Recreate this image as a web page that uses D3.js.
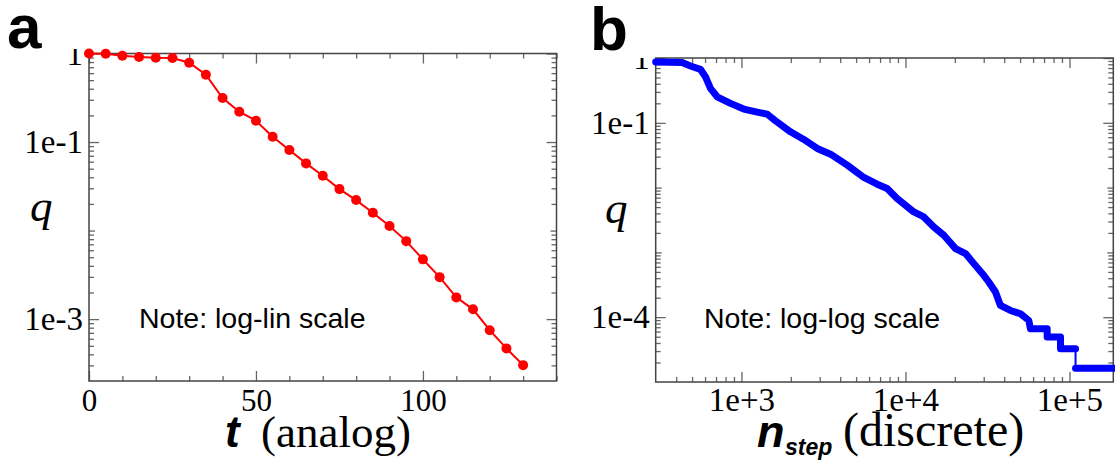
<!DOCTYPE html>
<html>
<head>
<meta charset="utf-8">
<script src="https://cdn.jsdelivr.net/npm/d3@7"></script>
<style>
  html, body { margin: 0; padding: 0; background: #fff; }
  svg { display: block; }
</style>
</head>
<body>
<script>
// ---- Panel a: analog dynamics, q versus t (log-lin) ----
const tValues = [0, 5, 10, 15, 20, 25, 30, 35, 40, 45, 50, 55, 60, 65, 70,
                 75, 80, 85, 90, 95, 100, 105, 110, 115, 120, 125, 130];
const qAnalog = [1.0, 0.995, 0.944, 0.913, 0.897, 0.89, 0.787, 0.576, 0.314,
                 0.22, 0.174, 0.115, 0.0812, 0.0574, 0.0416, 0.0294, 0.0221,
                 0.0159, 0.01125, 0.0076, 0.00473, 0.00298, 0.00176, 0.00129,
                 0.00075, 0.000467, 0.000302];
const tTickLabels = ["0", "50", "100"];
const qTickLabelsA = ["1", "1e-1", "1e-3"];

// ---- Panel b: discrete dynamics, q versus n_step (log-log) ----
const nStep = [300, 435, 489, 562, 603, 647, 711, 857, 1033, 1247, 1435, 1611,
               1990, 2399, 2898, 3492, 4416, 5575, 6720, 7730, 8891, 11240,
               12940, 14890, 17140, 20200, 23230, 26120, 30010, 32200, 35380,
               37930, 43660, 50250, 56460, 57820, 73110, 73110, 88180, 88180,
               108900];
const qStep = [0.87, 0.85, 0.752, 0.669, 0.514, 0.34, 0.252, 0.1995, 0.163,
               0.146, 0.136, 0.1074, 0.0726, 0.0554, 0.0402, 0.0328, 0.0222,
               0.01432, 0.01129, 0.00969, 0.00679, 0.00421, 0.00352, 0.00247,
               0.00184, 0.001145, 0.000958, 0.000671, 0.000443, 0.000349,
               0.000245, 0.000152, 0.000127, 0.000113, 8.93e-5, 6.64e-5,
               6.64e-5, 4.93e-5, 4.93e-5, 3.26e-5, 3.26e-5];
// last plateau, reached through a single jump
const nTail = [108900, 190000];
const qTail = [1.63e-5, 1.63e-5];
const nTickLabels = ["1e+3", "1e+4", "1e+5"];
const qTickLabelsB = ["1", "1e-1", "1e-4"];

const SERIF = "'Liberation Serif', 'Times New Roman', Times, serif";
const SANS = "'Liberation Sans', Arial, Helvetica, sans-serif";

const svg = d3.select("body").append("svg")
  .attr("width", 1115).attr("height", 466);

const defs = svg.append("defs");

// minor log ticks (2..9 x decade) inside a domain
function logMinors(lo, hi, dMin, dMax) {
  const out = [];
  for (let d = dMin; d <= dMax; d++) {
    for (let k = 2; k <= 9; k++) {
      const v = k * Math.pow(10, d);
      if (v > lo * 1.0001 && v < hi * 0.9999) out.push(v);
    }
  }
  return out;
}

// draws inward ticks on all four sides plus optional outer labels
function drawTicks(g, x, y, spec) {
  const [x0, x1] = x.range();
  const [y0, y1] = y.range(); // y0 bottom, y1 top
  const tickColor = "#666";

  function addAxis(axis, tx, ty, labelFont) {
    const a = g.append("g").attr("transform", `translate(${tx},${ty})`).call(axis);
    a.select(".domain").remove();
    a.selectAll(".tick line").attr("stroke", tickColor).attr("stroke-width", 1.3);
    a.selectAll("text").attr("fill", "#000").style("font-family", SERIF)
      .style("font-size", labelFont ? labelFont + "px" : null);
    return a;
  }

  // x: bottom + top
  spec.xSets.forEach(s => {
    addAxis(d3.axisBottom(x).tickValues(s.values).tickSize(-s.len)
      .tickPadding(s.pad || 8).tickFormat(s.fmt || (() => "")), 0, y0, spec.xFont);
    addAxis(d3.axisTop(x).tickValues(s.values).tickSize(-s.len)
      .tickFormat(() => ""), 0, y1);
  });
  // y: left + right
  spec.ySets.forEach(s => {
    const a = addAxis(d3.axisLeft(y).tickValues(s.values).tickSize(-s.len)
      .tickPadding(6).tickFormat(s.fmt || (() => "")), x0, 0, spec.yFont);
    if (s.fmt) a.attr("clip-path", `url(#${spec.clipId})`);
    addAxis(d3.axisRight(y).tickValues(s.values).tickSize(-s.len)
      .tickFormat(() => ""), x1, 0);
  });

  // frame
  g.append("rect")
    .attr("x", x0).attr("y", y1)
    .attr("width", x1 - x0).attr("height", y0 - y1)
    .attr("fill", "none").attr("stroke", "#444").attr("stroke-width", 1.5);
}

// ================= Panel a =================
{
  const x = d3.scaleLinear().domain([0, 140]).range([89, 556.5]);
  const y = d3.scaleLog().domain([2e-4, 1]).range([381, 53.5]);
  const g = svg.append("g");

  defs.append("clipPath").attr("id", "clipA").append("rect")
    .attr("x", -89).attr("y", 49).attr("width", 200).attr("height", 420);

  const majorX = [0, 50, 100];
  const minorX = d3.range(10, 141, 10).filter(v => v % 50 !== 0);
  const majorY = [1, 1e-1, 1e-3];
  const midY = [1e-2];
  const minorY = logMinors(2e-4, 1, -4, -1);

  drawTicks(g, x, y, {
    clipId: "clipA", xFont: 31, yFont: 33,
    xSets: [
      { values: majorX, len: 10, pad: 8, fmt: (d, i) => tTickLabels[i] },
      { values: minorX, len: 5 }
    ],
    ySets: [
      { values: majorY, len: 10, fmt: (d, i) => qTickLabelsA[i] },
      { values: midY, len: 6 },
      { values: minorY, len: 5 }
    ]
  });

  const pts = tValues.map((t, i) => [t, qAnalog[i]]);
  g.append("path")
    .datum(pts)
    .attr("fill", "none").attr("stroke", "#ff0000").attr("stroke-width", 2)
    .attr("d", d3.line().x(d => x(d[0])).y(d => y(d[1])));
  g.selectAll("circle.pt").data(pts).join("circle")
    .attr("class", "pt")
    .attr("cx", d => x(d[0])).attr("cy", d => y(d[1])).attr("r", 5)
    .attr("fill", "#ff0000");

  // labels
  svg.append("text").attr("x", 7).attr("y", 48)
    .style("font-family", SANS).style("font-weight", "bold").style("font-size", "62px")
    .text("a");
  svg.append("text").attr("x", 30).attr("y", 221)
    .style("font-family", SERIF).style("font-style", "italic").style("font-size", "45px")
    .text("q");
  svg.append("text").attr("x", 139).attr("y", 328)
    .style("font-family", SANS).style("font-size", "28.5px")
    .text("Note: log-lin scale");
  const xt = svg.append("text").attr("y", 447);
  xt.append("tspan").attr("x", 225)
    .style("font-family", SANS).style("font-weight", "bold").style("font-style", "italic")
    .style("font-size", "44px").text("t");
  xt.append("tspan").attr("x", 261)
    .style("font-family", SERIF).style("font-size", "45px").text("(analog)");
}

// ================= Panel b =================
{
  const x = d3.scaleLog().domain([300, 1.85e5]).range([655.7, 1113.3]);
  const y = d3.scaleLog().domain([1e-5, 1]).range([382, 58]);
  const g = svg.append("g");

  defs.append("clipPath").attr("id", "clipB").append("rect")
    .attr("x", -100).attr("y", 58).attr("width", 200).attr("height", 420);

  const majorX = [1e3, 1e4, 1e5];
  const minorX = logMinors(300, 1.85e5, 2, 5);
  const majorY = [1, 1e-1, 1e-4];
  const midY = [1e-2, 1e-3];
  const minorY = logMinors(1e-5, 1, -5, -1);

  drawTicks(g, x, y, {
    clipId: "clipB", xFont: 33, yFont: 33,
    xSets: [
      { values: majorX, len: 10, pad: 6, fmt: (d, i) => nTickLabels[i] },
      { values: minorX, len: 5 }
    ],
    ySets: [
      { values: majorY, len: 10, fmt: (d, i) => qTickLabelsB[i] },
      { values: midY, len: 6 },
      { values: minorY, len: 5 }
    ]
  });

  const line = d3.line().x(d => x(d[0])).y(d => y(d[1]));
  const main = nStep.map((n, i) => [n, qStep[i]]);
  const tail = nTail.map((n, i) => [n, qTail[i]]);

  // thin connecting line through every point
  g.append("path").datum(main.concat(tail))
    .attr("fill", "none").attr("stroke", "#0000ff").attr("stroke-width", 2)
    .attr("d", line);
  // dense marker band
  [main, tail].forEach(seg => {
    g.append("path").datum(seg)
      .attr("fill", "none").attr("stroke", "#0000ff").attr("stroke-width", 7)
      .attr("stroke-linejoin", "round").attr("stroke-linecap", "round")
      .attr("d", line);
  });

  svg.append("text").attr("x", 590).attr("y", 50)
    .style("font-family", SANS).style("font-weight", "bold").style("font-size", "62px")
    .text("b");
  svg.append("text").attr("x", 605).attr("y", 223)
    .style("font-family", SERIF).style("font-style", "italic").style("font-size", "45px")
    .text("q");
  svg.append("text").attr("x", 704).attr("y", 328)
    .style("font-family", SANS).style("font-size", "28.5px")
    .text("Note: log-log scale");
  const xt = svg.append("text").attr("y", 447);
  xt.append("tspan").attr("x", 757)
    .style("font-family", SANS).style("font-weight", "bold").style("font-style", "italic")
    .style("font-size", "45px").text("n");
  xt.append("tspan").attr("x", 785).attr("y", 455)
    .style("font-family", SANS).style("font-weight", "bold").style("font-style", "italic")
    .style("font-size", "23px").text("step");
  xt.append("tspan").attr("x", 843).attr("y", 446)
    .style("font-family", SERIF).style("font-size", "48px").text("(discrete)");
}
</script>
</body>
</html>
